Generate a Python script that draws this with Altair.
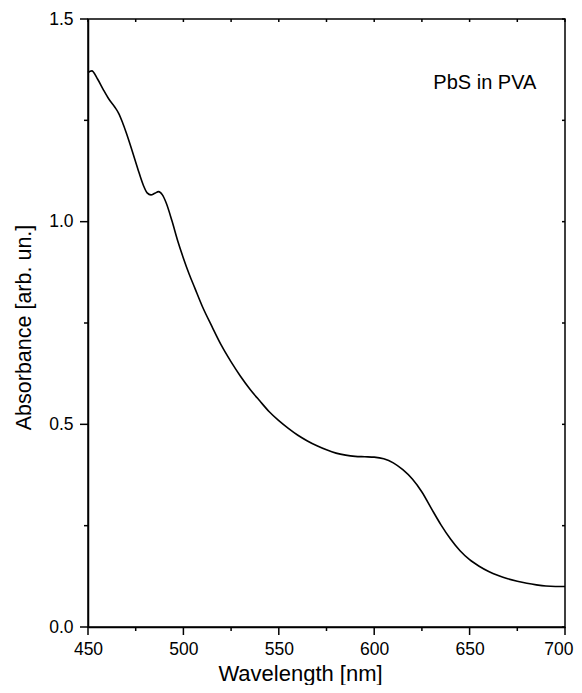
import altair as alt
import pandas as pd

wavelength = [450, 452, 455, 458, 461, 464, 466, 468, 470, 473, 476, 479, 481, 483, 485, 487, 489,
              491, 494, 497, 500, 503, 506, 510, 515, 520, 525, 530, 535, 540, 545, 550, 555, 560,
              565, 570, 575, 580, 585, 590, 595, 600, 605, 610, 615, 620, 625, 630, 635, 640, 645,
              650, 655, 660, 665, 670, 675, 680, 685, 690, 695, 700]
absorbance = [1.368, 1.372, 1.352, 1.326, 1.302, 1.283, 1.268, 1.246, 1.220, 1.177, 1.132, 1.090,
              1.071, 1.066, 1.070, 1.074, 1.066, 1.046, 1.002, 0.953, 0.910, 0.871, 0.836, 0.790,
              0.741, 0.694, 0.654, 0.618, 0.586, 0.558, 0.531, 0.509, 0.490, 0.473, 0.459, 0.447,
              0.437, 0.429, 0.424, 0.421, 0.420, 0.419, 0.415, 0.405, 0.388, 0.365, 0.333, 0.292,
              0.252, 0.217, 0.188, 0.166, 0.150, 0.137, 0.127, 0.119, 0.113, 0.108, 0.104, 0.101,
              0.100, 0.100]
x_major = [450, 500, 550, 600, 650, 700]
x_minor = [475, 525, 575, 625, 675]
y_major = [0.0, 0.5, 1.0, 1.5]
y_minor = [0.25, 0.75, 1.25]
x_all = [450, 475, 500, 525, 550, 575, 600, 625, 650, 675, 700]
y_all = [0.0, 0.25, 0.5, 0.75, 1.0, 1.25, 1.5]
label_text = ["PbS in PVA"]
label_x = [658]
label_y = [1.343]

df = pd.DataFrame({"w": wavelength, "a": absorbance})
lab = pd.DataFrame({"t": label_text, "x": label_x, "y": label_y})

FONT = "Liberation Sans"
W, H = 477, 608
MAJ, MIN, IN = 8, 4, 3
xscale = alt.Scale(domain=[450, 700], nice=False, zero=False)
yscale = alt.Scale(domain=[0, 1.5], nice=False)

x_axis = alt.Axis(
    values=x_major, title="Wavelength [nm]", grid=False, format="d",
    tickSize=MAJ, tickOpacity=0, labelFont=FONT, labelFontSize=17.5, labelColor="black", labelPadding=5,
    labelAlign={"condition": {"test": "datum.value === 700", "value": "right"}, "value": "center"},
    labelOffset={"condition": {"test": "datum.value === 700", "value": 8}, "value": 0},
    titleFont=FONT, titleFontSize=22, titleFontWeight="normal", titleColor="black",
    titleX=212, titleY=53, titleBaseline="alphabetic", titleAlign="center",
    domainColor="black", domainWidth=1.5, labelFlush=False,
)
y_axis = alt.Axis(
    values=y_major, title="Absorbance [arb. un.]", grid=False, format=".1f",
    tickSize=MAJ, tickOpacity=0, labelFont=FONT, labelFontSize=17.5, labelColor="black", labelPadding=7,
    titleFont=FONT, titleFontSize=21.5, titleFontWeight="normal", titleColor="black",
    titleX=-64, titleY=308, titleBaseline="middle", titleAlign="center", titleAngle=270,
    domainColor="black", domainWidth=1.5, labelFlush=False,
)

line = alt.Chart(df).mark_line(color="black", strokeWidth=1.6, interpolate="monotone").encode(
    x=alt.X("w:Q", scale=xscale, axis=x_axis),
    y=alt.Y("a:Q", scale=yscale, axis=y_axis),
)

text = alt.Chart(lab).mark_text(font=FONT, fontSize=20, color="black", baseline="middle", align="center").encode(
    x=alt.X("x:Q", scale=xscale, axis=None),
    y=alt.Y("y:Q", scale=yscale, axis=None),
    text="t:N",
)


def xticks(vals, y0, y1):
    return alt.Chart(pd.DataFrame({"w": vals})).mark_rule(color="black", strokeWidth=1.5, clip=False).encode(
        x=alt.X("w:Q", scale=xscale, axis=None), y=alt.value(y0), y2=alt.value(y1))


def yticks(vals, x0, x1):
    return alt.Chart(pd.DataFrame({"a": vals})).mark_rule(color="black", strokeWidth=1.5, clip=False).encode(
        y=alt.Y("a:Q", scale=yscale, axis=None), x=alt.value(x0), x2=alt.value(x1))


layers = [
    line, text,
    xticks(x_major, H, H + MAJ), xticks(x_minor, H, H + MIN), xticks(x_all, 0, IN),
    yticks(y_major, -MAJ, 0), yticks(y_minor, -MIN, 0), yticks(y_all, W - IN, W),
]

chart = alt.layer(*layers).resolve_axis(x="independent", y="independent").properties(
    width=W, height=H, background="white",
    autosize=alt.AutoSizeParams(type="none"),
    padding={"left": 80, "top": 11, "right": 9, "bottom": 58},
).configure_view(stroke="black", strokeWidth=1.5)

chart.save("out.html", embed_options={"renderer": "svg", "actions": False})
